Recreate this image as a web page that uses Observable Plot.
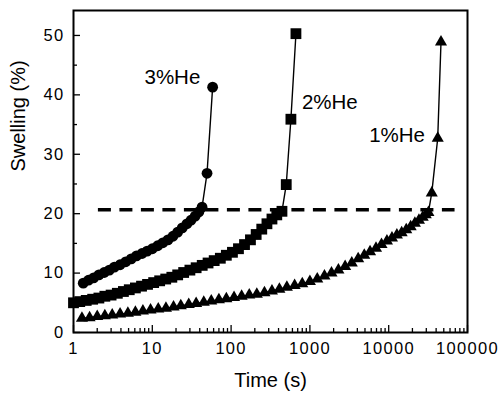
<!DOCTYPE html>
<html>
<head>
<meta charset="utf-8">
<script src="https://cdn.jsdelivr.net/npm/d3@7"></script>
<script src="https://cdn.jsdelivr.net/npm/@observablehq/plot@0.6"></script>
<style>
  html, body { margin: 0; padding: 0; background: #fff; }
  g[aria-label="x-axis tick label"] text, g[aria-label="y-axis tick label"] text { letter-spacing: 1.3px; }
  g[aria-label="axis-title"] text { letter-spacing: 0.8px; }
  g[aria-label="series-label"] text { letter-spacing: 0.3px; }
</style>
</head>
<body>
<div id="chart"></div>
<script>
// 3%He (circles)
const t3 = [1.33, 1.55, 1.8, 2.1, 2.45, 2.85, 3.3, 3.9, 4.6, 5.4, 6.3, 7.4, 8.6, 10, 11.7, 13.6, 15.8, 18.3, 21, 24, 27.5, 31, 35, 39, 42.8, 49.5, 58.3];
const s3 = [8.3, 8.8, 9.2, 9.7, 10.1, 10.5, 11.0, 11.4, 11.9, 12.4, 12.9, 13.3, 13.7, 14.1, 14.6, 15.1, 15.6, 16.2, 16.9, 17.6, 18.3, 18.9, 19.6, 20.3, 21.1, 26.8, 41.3];
// 2%He (squares)
const t2 = [1.0, 1.2, 1.45, 1.75, 2.1, 2.5, 3.0, 3.6, 4.3, 5.1, 6.1, 7.3, 8.7, 10.4, 12.4, 14.8, 17.7, 21, 25, 30, 36, 43, 51, 61, 73, 87, 104, 124, 148, 176, 208, 245, 285, 330, 380, 442, 501, 574, 665];
const s2 = [5.0, 5.2, 5.4, 5.6, 5.8, 6.1, 6.3, 6.6, 6.9, 7.2, 7.5, 7.8, 8.1, 8.4, 8.7, 9.0, 9.3, 9.7, 10.1, 10.5, 10.9, 11.3, 11.7, 12.1, 12.5, 13.0, 13.5, 14.1, 14.8, 15.6, 16.5, 17.4, 18.3, 19.1, 19.8, 20.4, 24.9, 35.9, 50.3];
// 1%He (triangles)
const t1 = [1.28, 1.6, 2.0, 2.5, 3.1, 3.9, 4.9, 6.1, 7.6, 9.5, 11.9, 14.9, 18.6, 23, 29, 36, 45, 56, 70, 87, 109, 136, 170, 212, 265, 330, 410, 510, 640, 800, 1000, 1240, 1530, 1880, 2300, 2800, 3400, 4100, 4900, 5800, 6900, 8100, 9500, 11000, 12700, 14600, 16700, 19000, 21500, 24200, 27000, 29500, 31900, 35200, 41900, 46100];
const s1 = [2.4, 2.5, 2.7, 2.8, 2.95, 3.1, 3.25, 3.4, 3.6, 3.8, 3.95, 4.1, 4.3, 4.5, 4.7, 4.9, 5.1, 5.3, 5.5, 5.7, 5.9, 6.1, 6.3, 6.45, 6.7, 7.0, 7.3, 7.6, 7.9, 8.2, 8.6, 9.0, 9.5, 10.0, 10.5, 11.1, 11.7, 12.4, 13.0, 13.6, 14.2, 14.8, 15.4, 15.9, 16.4, 16.8, 17.3, 17.8, 18.4, 18.9, 19.4, 19.8, 20.2, 23.5, 32.7, 48.9];

// Threshold dashed line
const threshold = 20.65;
const thresholdFrom = 2.07, thresholdTo = 69500;

// Series labels
const labelText = ["3%He", "2%He", "1%He"];
const labelT = [40.7, 792, 28900];
const labelV = [41.9, 37.7, 32.0];
const labelAnchor = ["end", "start", "end"];

// Tick labels
const xMajor = [1, 10, 100, 1000, 10000, 100000];
const xLabels = ["1", "10", "100", "1000", "10000", "100000"];
const yMajor = [0, 10, 20, 30, 40, 50];
const yMinor = [5, 15, 25, 35, 45];
const xMinor = [];
for (let d = 1; d < 100000; d *= 10) for (let k = 2; k <= 9; k++) xMinor.push(d * k);

const mk = (ts, vs) => ts.map((t, i) => ({t, v: vs[i]}));
const d3s = mk(t3, s3), d2s = mk(t2, s2), d1s = mk(t1, s1);
const labels = labelText.map((s, i) => ({s, t: labelT[i], v: labelV[i], a: labelAnchor[i]}));

const font = "'Liberation Sans', Arial, Helvetica, sans-serif";

const chart = Plot.plot({
  width: 500,
  height: 394,
  marginLeft: 73,
  marginRight: 33,
  marginTop: 10,
  marginBottom: 62,
  style: {fontFamily: font, color: "black", background: "white", overflow: "visible"},
  x: {type: "log", domain: [1, 100000]},
  y: {domain: [0, 54.2]},
  marks: [
    Plot.ruleY([threshold], {x1: thresholdFrom, x2: thresholdTo, stroke: "black", strokeWidth: 3.5, strokeDasharray: "13,8.5"}),
    Plot.line(d3s, {x: "t", y: "v", stroke: "black", strokeWidth: 1.4}),
    Plot.line(d2s, {x: "t", y: "v", stroke: "black", strokeWidth: 1.4}),
    Plot.line(d1s, {x: "t", y: "v", stroke: "black", strokeWidth: 1.4}),
    Plot.dot(d3s, {x: "t", y: "v", r: 5.4, symbol: "circle", fill: "black", stroke: "none"}),
    Plot.dot(d2s, {x: "t", y: "v", r: 6.1, symbol: "square", fill: "black", stroke: "none"}),
    Plot.dot(d1s, {x: "t", y: "v", r: 4.5, symbol: "triangle", fill: "black", stroke: "none"}),
    Plot.text(labels.filter(d => d.a === "end"), {x: "t", y: "v", text: "s", textAnchor: "end", lineAnchor: "bottom", fontSize: 20.5, fill: "black", ariaLabel: "series-label"}),
    Plot.text(labels.filter(d => d.a === "start"), {x: "t", y: "v", text: "s", textAnchor: "start", lineAnchor: "bottom", fontSize: 20.5, fill: "black", ariaLabel: "series-label"}),
    Plot.axisX({ticks: xMajor, tickSize: -7, tickFormat: () => "", label: null, strokeWidth: 1.3}),
    Plot.axisX({ticks: xMinor, tickSize: -4, tickFormat: () => "", label: null, strokeWidth: 1.3}),
    Plot.axisX({ticks: xMajor, tickSize: 0, tickPadding: 10, tickFormat: d => xLabels[xMajor.indexOf(d)], label: null, fontSize: 16.5}),
    Plot.axisY({ticks: yMajor, tickSize: -7, tickFormat: () => "", label: null, strokeWidth: 1.3}),
    Plot.axisY({ticks: yMinor, tickSize: -4, tickFormat: () => "", label: null, strokeWidth: 1.3}),
    Plot.axisY({ticks: yMajor, tickSize: 0, tickPadding: 9, tickFormat: d => String(d), label: null, fontSize: 16.5}),
    Plot.frame({stroke: "black", strokeWidth: 2}),
    Plot.text(["Time (s)"], {text: d => d, frameAnchor: "bottom", dy: 54, lineAnchor: "bottom", fontSize: 20, fill: "black", ariaLabel: "axis-title"}),
    Plot.text(["Swelling (%)"], {text: d => d, frameAnchor: "left", dx: -55, rotate: -90, fontSize: 20, fill: "black", ariaLabel: "axis-title"})
  ]
});
document.getElementById("chart").appendChild(chart);
</script>
</body>
</html>
